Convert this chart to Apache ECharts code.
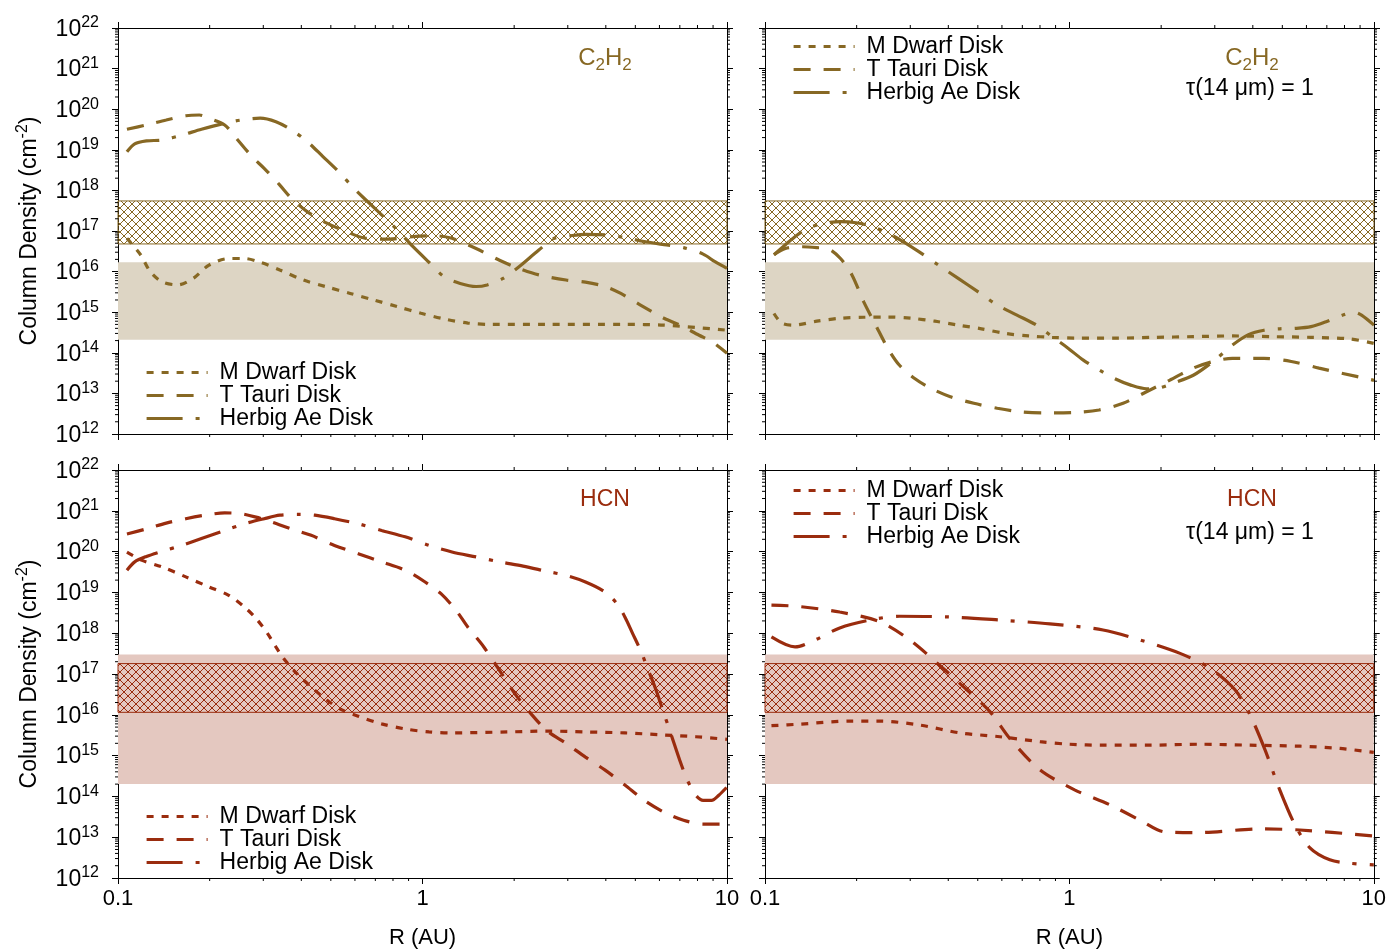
<!DOCTYPE html>
<html>
<head>
<meta charset="utf-8">
<script src="https://cdn.jsdelivr.net/npm/echarts@6/dist/echarts.min.js"></script>
<style>
  html, body { margin: 0; padding: 0; background: #ffffff; }
  #chart { width: 1389px; height: 951px; }
</style>
</head>
<body>
<div id="chart"></div>
<script>
// Column densities [R (AU), N (cm^-2)] for the three disk models.

// C2H2, full column
const c2h2ColumnMDwarf = [[0.107,6.6e16],[0.1186,2.6e16],[0.1276,1.0e16],[0.1396,5.6e15],[0.157,4.7e15],[0.177,6.9e15],[0.199,1.45e16],[0.231,2.1e16],[0.26,2.1e16],[0.293,1.7e16],[0.34,1.1e16],[0.406,6.2e15],[0.485,4.2e15],[0.579,2.9e15],[0.692,2.0e15],[0.828,1.37e15],[0.989,9.4e14],[1.18,6.8e14],[1.41,5.4e14],[1.69,5.0e14],[2.55,5.0e14],[4.62,5.0e14],[6.21,4.8e14],[10,3.6e14]];
const c2h2ColumnTTauri = [[0.107,3.2e19],[0.124,4.1e19],[0.144,5.4e19],[0.167,6.9e19],[0.185,7.2e19],[0.199,6.0e19],[0.224,4.1e19],[0.245,1.9e19],[0.276,6.7e18],[0.302,3.5e18],[0.34,1.35e18],[0.371,6.4e17],[0.418,3.0e17],[0.485,1.56e17],[0.563,9.6e16],[0.652,6.6e16],[0.779,6.3e16],[0.931,7.3e16],[1.11,7.6e16],[1.25,6.6e16],[1.5,3.7e16],[1.79,1.9e16],[2.07,1.2e16],[2.41,8.3e15],[2.96,6.2e15],[3.43,5.5e15],[3.98,4.3e15],[4.48,2.9e15],[5.2,1.5e15],[6.21,7.1e14],[7.0,4.8e14],[8.1,2.7e14],[8.9,1.9e14],[10,9.7e13]];
const c2h2ColumnHerbig = [[0.107,8.9e18],[0.1135,1.4e19],[0.124,1.66e19],[0.1396,1.74e19],[0.162,2.3e19],[0.188,3.2e19],[0.224,4.5e19],[0.253,5.4e19],[0.293,6.0e19],[0.33,4.9e19],[0.371,3.1e19],[0.418,1.6e19],[0.471,6.8e18],[0.53,2.9e18],[0.597,1.1e18],[0.652,5.8e17],[0.734,2.5e17],[0.828,1.05e17],[0.931,4.1e16],[1.05,1.7e16],[1.18,7.4e15],[1.33,5.1e15],[1.5,4.3e15],[1.63,4.7e15],[1.84,6.8e15],[2.07,1.3e16],[2.41,3.4e16],[2.71,6.6e16],[3.05,7.6e16],[3.43,8.3e16],[3.98,8.0e16],[4.62,6.9e16],[5.35,5.5e16],[6.21,4.6e16],[7.2,3.9e16],[8.35,2.7e16],[9.13,1.75e16],[10,1.2e16]];

// C2H2, column above tau(14 um) = 1
const c2h2TauMDwarf = [[0.107,9.3e14],[0.1135,5.4e14],[0.124,4.8e14],[0.148,6.0e14],[0.177,7.1e14],[0.211,7.5e14],[0.253,7.6e14],[0.302,7.1e14],[0.361,6.0e14],[0.431,4.8e14],[0.514,3.9e14],[0.615,3.0e14],[0.735,2.6e14],[0.877,2.4e14],[1.05,2.3e14],[1.41,2.3e14],[1.9,2.4e14],[2.55,2.5e14],[3.43,2.6e14],[4.62,2.5e14],[6.21,2.4e14],[8.35,2.2e14],[10,1.7e14]];
const c2h2TauTTauri = [[0.107,2.6e16],[0.1167,3.7e16],[0.1315,4.1e16],[0.148,3.9e16],[0.162,3.6e16],[0.177,2.1e16],[0.193,8.3e15],[0.211,1.8e15],[0.231,4.8e14],[0.253,1.3e14],[0.276,5.0e13],[0.311,2.3e13],[0.35,1.34e13],[0.406,8.3e12],[0.485,5.7e12],[0.579,4.3e12],[0.692,3.5e12],[0.828,3.3e12],[1.05,3.4e12],[1.25,3.9e12],[1.5,5.7e12],[1.79,1.1e13],[2.13,2.1e13],[2.55,4.2e13],[2.96,6.1e13],[3.43,7.3e13],[4.35,7.3e13],[5.35,6.1e13],[6.6,4.2e13],[7.9,3.1e13],[10,2.1e13]];
const c2h2TauHerbig = [[0.107,2.6e16],[0.1167,4.6e16],[0.1276,8.0e16],[0.1396,1.2e17],[0.157,1.55e17],[0.177,1.7e17],[0.199,1.6e17],[0.224,1.3e17],[0.253,8.8e16],[0.284,5.5e16],[0.32,3.1e16],[0.371,1.45e16],[0.431,6.8e15],[0.5,3.2e15],[0.579,1.5e15],[0.672,8.5e14],[0.779,4.8e14],[0.877,2.5e14],[0.989,1.3e14],[1.11,6.6e13],[1.25,3.8e13],[1.41,2.3e13],[1.59,1.6e13],[1.79,1.3e13],[1.95,1.34e13],[2.2,1.8e13],[2.55,2.8e13],[2.96,6.1e13],[3.43,1.55e14],[3.87,2.8e14],[4.35,3.6e14],[4.9,3.9e14],[5.52,4.0e14],[6.21,4.4e14],[7.0,5.9e14],[7.9,8.5e14],[8.6,1.0e15],[9.1,8.5e14],[10,4.8e14]];

// HCN, full column
const hcnColumnMDwarf = [[0.107,9.7e19],[0.12,6.1e19],[0.1396,4.2e19],[0.167,2.4e19],[0.199,1.36e19],[0.231,8.5e18],[0.26,4.4e18],[0.284,2.3e18],[0.31,9.8e17],[0.33,4.6e17],[0.35,2.4e17],[0.383,1.1e17],[0.431,4.8e16],[0.485,2.3e16],[0.546,1.3e16],[0.615,9.2e15],[0.734,6.0e15],[0.877,4.5e15],[1.05,3.8e15],[1.25,3.6e15],[1.9,3.8e15],[2.55,4.0e15],[3.43,3.8e15],[4.62,3.6e15],[6.21,3.2e15],[7.9,2.9e15],[10,2.5e15]];
const hcnColumnTTauri = [[0.107,2.7e20],[0.124,3.6e20],[0.144,5.0e20],[0.167,6.4e20],[0.193,7.8e20],[0.224,8.9e20],[0.253,8.5e20],[0.284,7.0e20],[0.32,5.3e20],[0.371,3.6e20],[0.431,2.5e20],[0.514,1.42e20],[0.615,8.9e19],[0.734,5.6e19],[0.877,3.5e19],[1.02,1.8e19],[1.15,9.3e18],[1.29,3.6e18],[1.41,1.4e18],[1.59,4.6e17],[1.79,1.23e17],[2.01,3.3e16],[2.27,1.07e16],[2.55,4.2e15],[2.96,2.0e15],[3.43,9.2e14],[3.98,4.4e14],[4.62,1.9e14],[5.35,8.0e13],[6.21,4.1e13],[7.2,2.6e13],[8.35,2.1e13],[10,2.1e13]];
const hcnColumnHerbig = [[0.107,3.5e19],[0.1135,5.6e19],[0.124,7.6e19],[0.1396,1.02e20],[0.162,1.42e20],[0.188,2.1e20],[0.224,3.3e20],[0.26,4.8e20],[0.302,6.4e20],[0.34,7.8e20],[0.394,8.2e20],[0.443,7.8e20],[0.514,6.4e20],[0.615,4.8e20],[0.734,3.3e20],[0.877,2.3e20],[1.05,1.42e20],[1.25,9.8e19],[1.5,7.4e19],[1.79,5.6e19],[2.14,4.4e19],[2.55,3.3e19],[2.96,2.6e19],[3.43,1.8e19],[3.98,1.02e19],[4.35,5.3e18],[4.62,2.5e18],[4.9,9.8e17],[5.2,3.8e17],[5.52,1.23e17],[5.85,4.0e16],[6.21,1.07e16],[6.59,2.9e15],[7.0,7.6e14],[7.41,2.5e14],[7.9,1.07e14],[8.35,8.0e13],[8.9,8.0e13],[9.4,1.07e14],[10,1.7e14]];

// HCN, column above tau(14 um) = 1
const hcnTauMDwarf = [[0.105,5.4e15],[0.13,5.9e15],[0.19,7.0e15],[0.239,7.0e15],[0.323,5.6e15],[0.437,3.6e15],[0.591,2.9e15],[0.8,2.2e15],[1.0,1.9e15],[1.29,1.8e15],[1.84,1.8e15],[2.68,1.9e15],[3.92,1.8e15],[5.72,1.7e15],[7.73,1.5e15],[10,1.2e15]];
const hcnTauTTauri = [[0.105,4.9e18],[0.13,4.5e18],[0.176,3.3e18],[0.239,1.9e18],[0.299,6.8e17],[0.376,1.6e17],[0.454,4.5e16],[0.548,1.2e16],[0.638,2.6e15],[0.8,4.5e14],[1.04,1.45e14],[1.36,6.2e13],[1.71,2.6e13],[2.06,1.35e13],[2.68,1.3e13],[4.23,1.6e13],[5.72,1.5e13],[10,1.07e13]];
const hcnTauHerbig = [[0.105,8.1e17],[0.1255,4.6e17],[0.146,6.8e17],[0.176,1.35e18],[0.221,2.1e18],[0.277,2.6e18],[0.405,2.5e18],[0.591,2.1e18],[0.863,1.7e18],[1.29,1.2e18],[1.71,6.8e17],[2.31,3.2e17],[2.89,1.4e17],[3.5,4.1e16],[3.92,1.0e16],[4.39,1.4e15],[4.91,1.45e14],[5.51,2.0e13],[6.17,5.5e12],[7.17,2.8e12],[8.34,2.3e12],[10,2.1e12]];

// Observed column density ranges [low, high] (cm^-2)
const c2h2HatchRange = [4.8e16, 5.5e17];
const c2h2FillRange = [2.1e14, 1.7e16];
const hcnHatchRange = [1.15e16, 1.8e17];
const hcnFillRange = [2.0e14, 3.0e17];

const diskNames = ['M Dwarf Disk', 'T Tauri Disk', 'Herbig Ae Disk'];
const radiusRange = [0.1, 10];
const columnRange = [1e12, 1e22];

// ---------------------------------------------------------------------------
const FONT = "'Liberation Sans', Arial, Helvetica, sans-serif";
const C2H2_COLOR = '#876824';
const C2H2_FILL = '#ddd5c4';
const HCN_COLOR = '#9a2c0e';
const HCN_FILL = '#e4c8c0';
const LINE_WIDTH = 3.2;

const dashStyles = [[7, 8], [17, 13], [36, 13, 4, 13]];

function hatchPattern(color) {
  const c = document.createElement('canvas');
  c.width = 8; c.height = 8;
  const g = c.getContext('2d');
  g.strokeStyle = color;
  g.lineWidth = 1;
  g.beginPath();
  g.moveTo(0, 0); g.lineTo(8, 8);
  g.moveTo(8, 0); g.lineTo(0, 8);
  g.stroke();
  return c;
}

const panels = [
  { mol: 'C2H2', color: C2H2_COLOR, fill: C2H2_FILL, hatch: c2h2HatchRange, band: c2h2FillRange,
    curves: [c2h2ColumnMDwarf, c2h2ColumnTTauri, c2h2ColumnHerbig],
    grid: { left: 118, top: 28, width: 609, height: 406 }, xLabels: false, yLabels: true,
    legend: { left: 145, top: 361 } },
  { mol: 'C2H2', color: C2H2_COLOR, fill: C2H2_FILL, hatch: c2h2HatchRange, band: c2h2FillRange,
    curves: [c2h2TauMDwarf, c2h2TauTTauri, c2h2TauHerbig],
    grid: { left: 765, top: 28, width: 609, height: 406 }, xLabels: false, yLabels: false,
    legend: { left: 792, top: 35 } },
  { mol: 'HCN', color: HCN_COLOR, fill: HCN_FILL, hatch: hcnHatchRange, band: hcnFillRange,
    curves: [hcnColumnMDwarf, hcnColumnTTauri, hcnColumnHerbig],
    grid: { left: 118, top: 470, width: 609, height: 408 }, xLabels: true, yLabels: true,
    legend: { left: 145, top: 805 } },
  { mol: 'HCN', color: HCN_COLOR, fill: HCN_FILL, hatch: hcnHatchRange, band: hcnFillRange,
    curves: [hcnTauMDwarf, hcnTauTTauri, hcnTauHerbig],
    grid: { left: 765, top: 470, width: 609, height: 408 }, xLabels: true, yLabels: false,
    legend: { left: 792, top: 479 } }
];

// minor tick values at 2..9 of each decade
const xMinor = [];
for (let k = -1; k < 1; k++) for (let m = 2; m <= 9; m++) xMinor.push(+(m * Math.pow(10, k)).toPrecision(3));
const yMinor = [];
for (let k = 12; k < 22; k++) for (let m = 2; m <= 9; m++) yMinor.push(m * Math.pow(10, k));
const minorTickData = xMinor.map(v => [v, columnRange[0], 0]).concat(yMinor.map(v => [radiusRange[0], v, 1]));

const supRich = (size, supSize) => ({
  b: { fontFamily: FONT, fontSize: size, color: '#000', verticalAlign: 'bottom' },
  s: { fontFamily: FONT, fontSize: supSize, color: '#000', verticalAlign: 'top', padding: [0, 0, 10, 0] }
});

const grids = [], xAxes = [], yAxes = [], series = [], legends = [], graphics = [];

panels.forEach((p, i) => {
  grids.push(Object.assign({ containLabel: false, show: false }, p.grid));
  const lineAxis = { show: true, onZero: false, lineStyle: { color: '#000', width: 1 } };
  const tick = { show: true, inside: false, length: 6, lineStyle: { color: '#000', width: 1 } };
  ['bottom', 'top'].forEach(pos => {
    const showLab = pos === 'bottom' && p.xLabels;
    xAxes.push({
      type: 'log', logBase: 10, gridIndex: i, position: pos,
      min: radiusRange[0], max: radiusRange[1], interval: 1,
      axisLine: lineAxis, axisTick: tick, splitLine: { show: false },
      axisLabel: {
        show: showLab, margin: 10, fontFamily: FONT, fontSize: 22, color: '#000',
        formatter: v => (v < 1 ? '0.1' : String(Math.round(v)))
      },
      name: showLab ? 'R (AU)' : '', nameLocation: 'middle', nameGap: 49,
      nameTextStyle: { fontFamily: FONT, fontSize: 22, color: '#000' }
    });
  });
  ['left', 'right'].forEach(pos => {
    const showLab = pos === 'left' && p.yLabels;
    yAxes.push({
      type: 'log', logBase: 10, gridIndex: i, position: pos,
      min: columnRange[0], max: columnRange[1], interval: 1,
      axisLine: lineAxis, axisTick: tick, splitLine: { show: false },
      axisLabel: {
        show: showLab, margin: 19, color: '#000',
        formatter: v => '{b|10}{s|' + Math.round(Math.log10(v)) + '}',
        rich: supRich(23, 16)
      },
      name: showLab ? '{b|Column Density (cm}{s|-2}{b|)}' : '',
      nameLocation: 'middle', nameGap: 77, nameRotate: 90,
      nameTextStyle: { rich: supRich(23, 16) }
    });
  });

  const xi = 2 * i, yi = 2 * i;

  // observed ranges: plain band under a cross-hatched band
  series.push({
    type: 'line', xAxisIndex: xi, yAxisIndex: yi, data: [], silent: true, z: 1,
    markArea: {
      silent: true,
      data: [
        [{ yAxis: p.band[0], itemStyle: { color: p.fill, borderWidth: 0 } }, { yAxis: p.band[1] }],
        [{ yAxis: p.hatch[0], itemStyle: { color: { image: hatchPattern(p.color), repeat: 'repeat' }, borderColor: p.color, borderWidth: 1 } }, { yAxis: p.hatch[1] }]
      ]
    }
  });

  // model curves
  p.curves.forEach((d, j) => {
    series.push({
      type: 'line', name: p.mol + '|' + diskNames[j], xAxisIndex: xi, yAxisIndex: yi,
      data: d, showSymbol: false, symbol: 'none', smooth: 0.3, z: 3, silent: true,
      lineStyle: { color: p.color, width: LINE_WIDTH, type: dashStyles[j], cap: 'butt' },
      itemStyle: { color: p.color }
    });
  });

  // minor ticks on all four sides, placed through the axis scales
  series.push({
    type: 'custom', xAxisIndex: xi, yAxisIndex: yi, data: minorTickData, silent: true, z: 4, clip: false,
    encode: { x: 0, y: 1 },
    renderItem: (params, api) => {
      const kind = api.value(2);
      const st = { stroke: '#000', lineWidth: 1 };
      if (kind === 0) {
        const b = api.coord([api.value(0), columnRange[0]]);
        const t = api.coord([api.value(0), columnRange[1]]);
        return { type: 'group', children: [
          { type: 'line', shape: { x1: b[0], y1: b[1], x2: b[0], y2: b[1] + 3 }, style: st },
          { type: 'line', shape: { x1: t[0], y1: t[1], x2: t[0], y2: t[1] - 3 }, style: st }
        ] };
      }
      const l = api.coord([radiusRange[0], api.value(1)]);
      const r = api.coord([radiusRange[1], api.value(1)]);
      return { type: 'group', children: [
        { type: 'line', shape: { x1: l[0], y1: l[1], x2: l[0] - 3, y2: l[1] }, style: st },
        { type: 'line', shape: { x1: r[0], y1: r[1], x2: r[0] + 3, y2: r[1] }, style: st }
      ] };
    }
  });

  legends.push({
    show: true, orient: 'vertical', left: p.legend.left, top: p.legend.top, padding: 0,
    data: diskNames.map((n, j) => ({
      name: p.mol + '|' + n,
      itemStyle: { opacity: 0, color: 'rgba(0,0,0,0)', borderWidth: 0 },
      lineStyle: { color: p.color, width: LINE_WIDTH, type: dashStyles[j], cap: 'butt' }
    })),
    formatter: n => '{t|' + n.split('|')[1] + '}',
    itemWidth: 61, itemHeight: 12, itemGap: 0, selectedMode: false,
    textStyle: {
      fontFamily: FONT, fontSize: 23, color: '#000', lineHeight: 23,
      rich: { t: { fontFamily: FONT, fontSize: 23, color: '#000', lineHeight: 23, padding: [0, 0, 0, 7] } }
    }
  });
});

// panel annotations
function molLabel(x, y, color) {
  return { type: 'text', x: x, y: y, silent: true, style: {
    text: '{c|C}{s|2}{c|H}{s|2}', align: 'center', verticalAlign: 'middle',
    rich: {
      c: { fontFamily: FONT, fontSize: 24, fill: color, verticalAlign: 'top' },
      s: { fontFamily: FONT, fontSize: 17, fill: color, verticalAlign: 'bottom', padding: [11, 0, 0, 0] }
    } } };
}
function plainLabel(x, y, text, color) {
  return { type: 'text', x: x, y: y, silent: true, style: {
    text: text, fontFamily: FONT, fontSize: 23, fill: color, align: 'center', verticalAlign: 'middle' } };
}
graphics.push(molLabel(605, 60, C2H2_COLOR));
graphics.push(molLabel(1252, 60, C2H2_COLOR));
graphics.push(plainLabel(1250, 89, 'τ(14 μm) = 1', '#000'));
graphics.push(plainLabel(605, 500, 'HCN', HCN_COLOR));
graphics.push(plainLabel(1252, 500, 'HCN', HCN_COLOR));
graphics.push(plainLabel(1250, 533, 'τ(14 μm) = 1', '#000'));

const chart = echarts.init(document.getElementById('chart'), null, { renderer: 'canvas' });
chart.setOption({
  backgroundColor: '#ffffff',
  animation: false,
  grid: grids,
  xAxis: xAxes,
  yAxis: yAxes,
  legend: legends,
  series: series,
  graphic: graphics
});
</script>
</body>
</html>
